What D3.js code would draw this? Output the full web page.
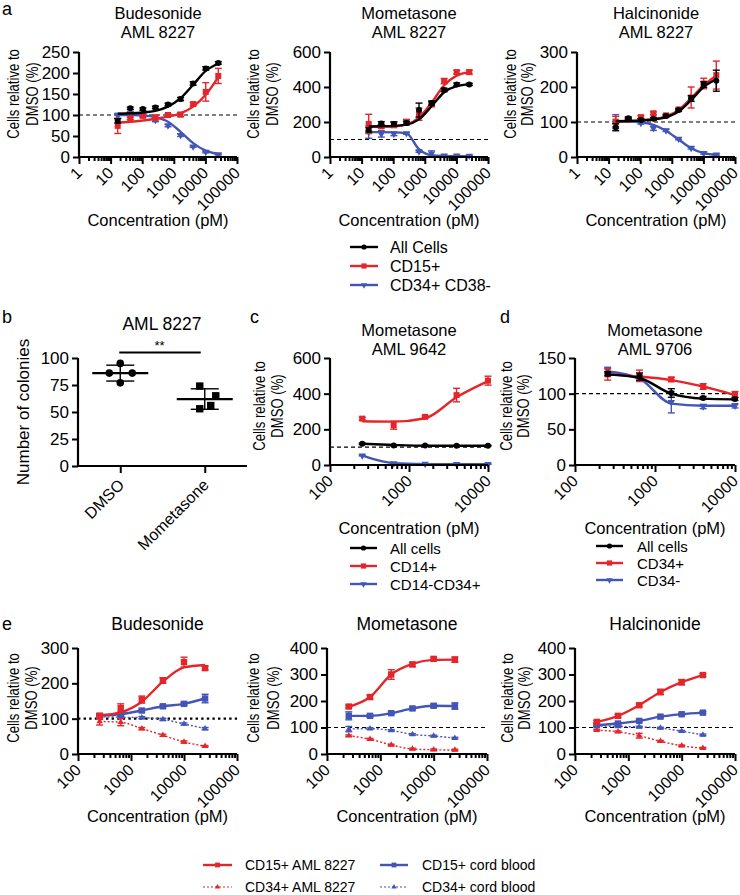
<!DOCTYPE html>
<html><head><meta charset="utf-8">
<script src="https://cdn.jsdelivr.net/npm/d3@7"></script>
<style>body{margin:0;background:#fff} svg{display:block} text{font-family:'Liberation Sans',Arial,sans-serif;fill:#000}</style>
</head><body>
<script>
// ---------------- DATA ----------------
// panel a (AML 8227) concentrations, pM
const concA = [16.8, 42, 105, 262, 655, 1638, 4096, 10240, 25600];
const budAll = [86,116,114,118,125,138,175,211,224];
const budAllErr = [5,3,3,3,3,4,4,4,3];
const budAllFit = [103,104,106,110,120,140,172,205,222];
const budCD15 = [74,92,98,94,100,101,126,155,193];
const budCD15Err = [18,3,4,6,3,5,4,22,18];
const budCD15Fit = [82,84,87,91,96,104,120,148,190];
const budCD34 = [98,104,100,88,75,52,25,12,6];
const budCD34Err = [6,3,3,4,3,3,2,2,1];
const budCD34Fit = [100,100,99,95,84,60,33,15,7];

const momAll = [155,192,189,194,268,308,383,415,415];
const momAllErr = [12,10,12,10,40,12,10,8,6];
const momAllFit = [175,176,178,185,215,290,370,405,415];
const momCD15 = [189,175,183,200,245,302,434,485,485];
const momCD15Err = [55,10,15,15,35,15,15,10,12];
const momCD15Fit = [172,173,176,186,225,310,410,465,485];
const momCD34 = [142,132,132,135,32,20,8,8,7];
const momCD34Err = [35,18,10,5,5,15,3,2,2];
const momCD34Fit = [142,142,141,135,45,10,6,5,5];

const halAll = [85,111,106,109,117,134,167,207,218];
const halAllErr = [10,3,3,4,3,3,8,8,30];
const halAllFit = [102,103,104,107,114,130,163,200,222];
const halCD15 = [101,108,114,125,119,136,170,210,234];
const halCD15Err = [15,3,4,4,3,3,30,15,40];
const halCD15Fit = [102,103,105,108,116,134,168,205,232];
const halCD34 = [101,109,97,82,76,52,26,11,7];
const halCD34Err = [20,3,3,6,3,3,3,3,2];
const halCD34Fit = [101,101,99,92,75,50,25,11,6];

// panel b colonies
const colonyGroups = ["DMSO","Mometasone"];
const dmsoColonies = [95,86,86,77];
const momColonies = [74,65,56,53];

// panel c (AML 9642) and d (AML 9706)
const concCD = [256, 640, 1600, 4000, 10000];
const cAll = [119,110,109,108,108];
const cAllErr = [4,3,2,2,2];
const cAllFit = [119,112,108,108,108];
const cCD14 = [260,223,270,392,473];
const cCD14Err = [8,22,6,38,25];
const cCD14Fit = [245,243,262,380,470];
const cCD14CD34 = [53,9,6,5,5];
const cCD14CD34Err = [2,2,1,1,1];
const cCD14CD34Fit = [52,10,5,4,4];

const dAll = [128,124,101,94,92.5];
const dAllErr = [3,5,6,2,2];
const dAllFit = [127,122,100,93,92];
const dCD34p = [127,125,120,110,99];
const dCD34pErr = [8,8,3,4,4];
const dCD34pFit = [127,124,119,110,98];
const dCD34n = [133,122,88,82,83];
const dCD34nErr = [4,4,15,3,3];
const dCD34nFit = [131,121,86,83,83];

// panel e
const concE = [256, 640, 1600, 4000, 10000, 25000];
const eBudCD15AML = [107,130,154,208,260,243];
const eBudCD15AMLErr = [8,12,10,8,14,5];
const eBudCD15AMLFit = [110,118,148,205,245,252];
const eBudCD15CB = [108,113,123,135,142,157];
const eBudCD15CBErr = [4,4,4,4,4,12];
const eBudCD34AML = [92,90,72,53,34,22];
const eBudCD34AMLErr = [10,10,3,3,3,2];
const eBudCD34CB = [106,104,103,98,85,72];
const eBudCD34CBErr = [3,3,3,3,3,3];

const eMomCD15AML = [179,215,300,338,359,356];
const eMomCD15AMLErr = [5,8,18,8,5,10];
const eMomCD15AMLFit = [178,215,300,340,355,356];
const eMomCD15CB = [144,144,154,172,182,181];
const eMomCD15CBErr = [15,5,5,5,6,12];
const eMomCD34AML = [69,56,34,19,16,15];
const eMomCD34AMLErr = [3,3,3,3,3,3];
const eMomCD34CB = [94,96,89,74,68,60];
const eMomCD34CBErr = [10,3,3,3,3,3];

const eHalCD15AML = [121,144,184,234,271,298];
const eHalCD15AMLErr = [5,5,5,10,10,5];
const eHalCD15CB = [109,115,125,141,150,156];
const eHalCD15CBErr = [4,4,4,4,4,4];
const eHalCD34AML = [90,84,69,48,31,22];
const eHalCD34AMLErr = [3,3,9,3,3,3];
const eHalCD34CB = [106,104,102,98,86,72];
const eHalCD34CBErr = [3,3,3,3,3,3];

const legendA = ["All Cells","CD15+","CD34+ CD38-"];
const legendC = ["All cells","CD14+","CD14-CD34+"];
const legendD = ["All cells","CD34+","CD34-"];
const legendE = ["CD15+ AML 8227","CD34+ AML 8227","CD15+ cord blood","CD34+ cord blood"];

// ---------------- DRAWING ----------------
const RED = '#e4262b', BLUE = '#4356b6', BLK = '#000';
const FONT = "'Liberation Sans',Arial,sans-serif";
const svg = d3.select('body').append('svg').attr('width',740).attr('height',895);

function text(x,y,s,size,anchor){
  return svg.append('text').attr('x',x).attr('y',y).attr('font-size',size)
    .attr('text-anchor',anchor||'start').text(s);
}
function marker(g,type,x,y,color,sz){
  if(type==='circle') g.append('circle').attr('cx',x).attr('cy',y).attr('r',sz).attr('fill',color);
  else if(type==='square') g.append('rect').attr('x',x-sz).attr('y',y-sz).attr('width',2*sz).attr('height',2*sz).attr('fill',color);
  else {
    const p = d3.symbol(d3.symbolTriangle, sz*sz*2.6)();
    g.append('path').attr('d',p).attr('fill',color)
      .attr('transform',`translate(${x},${y}) rotate(${type==='tridown'?180:0})`);
  }
}
function ylabel(lines, xs, cy, size, sc){
  lines.forEach((l,i)=>{
    svg.append('text').attr('transform',`translate(${xs[i]},${cy}) scale(1,${sc}) rotate(-90)`)
      .attr('text-anchor','middle').attr('dominant-baseline','central')
      .attr('font-size',size).text(l);
  });
}
function rotLabel(x,y,s,size){
  svg.append('text').attr('transform',`translate(${x},${y}) rotate(-45)`)
    .attr('text-anchor','end').attr('dy','0.35em').attr('font-size',size).text(s);
}
function styleY(ya,top,bot){
  ya.select('.domain').attr('stroke-width',2.2).attr('d',`M0,${bot+1}V${top}`);
  ya.selectAll('.tick line').attr('stroke-width',2);
  ya.selectAll('.tick text').attr('font-size',17).attr('font-family',FONT).attr('fill','#000');
}

function plot(cfg){
  const x = d3.scaleLog().domain(cfg.xDomain).range([cfg.x0,cfg.x1]);
  const y = d3.scaleLinear().domain([0,cfg.yMax]).range([cfg.bot,cfg.top]);
  const g = svg.append('g');
  // reference line at 100
  g.append('line').attr('x1',cfg.x0).attr('x2',cfg.x1).attr('y1',y(100)).attr('y2',y(100))
    .attr('stroke','#000')
    .attr('stroke-width', cfg.refDot?2.4:1.2)
    .attr('stroke-dasharray', cfg.refDot?'2.4,3.2':'4,3');
  cfg.series.forEach(s=>{
    const vals = s.fit || s.y;
    const line = d3.line().x((d,i)=>x(s.x[i])).y(d=>y(d)).curve(d3.curveMonotoneX);
    g.append('path').attr('d',line(vals)).attr('fill','none').attr('stroke',s.color)
      .attr('stroke-width', s.dash?1.4:2.4).attr('stroke-dasharray', s.dash?'2,2':null);
    s.y.forEach((v,i)=>{
      const cx = x(s.x[i]), e = s.err[i];
      const y1 = y(v-e), y2 = y(v+e);
      g.append('line').attr('x1',cx).attr('x2',cx).attr('y1',y1).attr('y2',y2).attr('stroke',s.color).attr('stroke-width',1.4);
      [y1,y2].forEach(yy=>g.append('line').attr('x1',cx-3.5).attr('x2',cx+3.5).attr('y1',yy).attr('y2',yy).attr('stroke',s.color).attr('stroke-width',1.4));
      marker(g,s.marker,cx,y(v),s.color,s.size||3);
    });
  });
  // y axis
  const ya = g.append('g').attr('transform',`translate(${cfg.x0},0)`)
    .call(d3.axisLeft(y).tickValues(cfg.yTicks).tickSize(6).tickSizeOuter(0).tickPadding(3));
  styleY(ya,cfg.top,cfg.bot);
  // x axis (log with minor ticks)
  const d0 = Math.round(Math.log10(cfg.xDomain[0])), d1 = Math.round(Math.log10(cfg.xDomain[1]));
  const tv = [];
  for(let d=d0; d<d1; d++) for(let k=1;k<10;k++) tv.push(k*Math.pow(10,d));
  tv.push(Math.pow(10,d1));
  const xa = g.append('g').attr('transform',`translate(0,${cfg.bot})`)
    .call(d3.axisBottom(x).tickValues(tv).tickSizeOuter(0).tickFormat(()=>''));
  xa.select('.domain').attr('stroke-width',2.2).attr('d',`M${cfg.x0-1},0H${cfg.x1}`);
  xa.selectAll('.tick line').attr('stroke-width',2)
    .attr('y2',d=>{const l=Math.log10(d);return Math.abs(l-Math.round(l))<1e-9?7:4;});
  for(let d=d0; d<=d1; d++){
    const v = Math.pow(10,d);
    rotLabel(x(v), cfg.bot+13, String(v), 16);
  }
  // titles
  cfg.title.forEach((t,i)=>text((cfg.x0+cfg.x1)/2, cfg.titleY[i], t, cfg.title.length>1?16.5:17.5, 'middle'));
  ylabel(["Cells relative to","DMSO (%)"], cfg.ylabX, cfg.ylabCY, 16, 0.82);
  text((cfg.x0+cfg.x1)/2, cfg.xlabY, "Concentration (pM)", 16.5, 'middle');
}

function ser(xv,yv,err,fit,color,mk,dash,size){return {x:xv,y:yv,err:err,fit:fit,color:color,marker:mk,dash:dash,size:size};}
function legend(x0, ys, labels, specs, size, lineLen, gap){
  labels.forEach((l,i)=>{
    const s = specs[i], y = ys[i];
    svg.append('line').attr('x1',x0).attr('x2',x0+lineLen).attr('y1',y).attr('y2',y)
      .attr('stroke',s.color).attr('stroke-width',s.dash?1.2:2.4).attr('stroke-dasharray',s.dash?'2,2':null);
    marker(svg,s.marker,x0+lineLen/2,y,s.color,s.size||2.6);
    svg.append('text').attr('x',x0+lineLen+gap).attr('y',y).attr('dominant-baseline','central')
      .attr('font-size',size).text(l);
  });
}

// ---- Row 1 (a)
text(2,15,'a',18);
const R1 = {top:52, bot:157, titleY:[19,37.5], ylabCY:94, xlabY:226, xDomain:[1,100000]};
plot(Object.assign({},R1,{x0:79,x1:237,yMax:250,yTicks:[0,50,100,150,200,250],title:["Budesonide","AML 8227"],ylabX:[14,33],
  series:[ser(concA,budCD34,budCD34Err,budCD34Fit,BLUE,'tridown'),
          ser(concA,budCD15,budCD15Err,budCD15Fit,RED,'square'),
          ser(concA,budAll,budAllErr,budAllFit,BLK,'circle')]}));
plot(Object.assign({},R1,{x0:330,x1:488,yMax:600,yTicks:[0,200,400,600],title:["Mometasone","AML 8227"],ylabX:[254,273],
  series:[ser(concA,momCD34,momCD34Err,momCD34Fit,BLUE,'tridown'),
          ser(concA,momCD15,momCD15Err,momCD15Fit,RED,'square'),
          ser(concA,momAll,momAllErr,momAllFit,BLK,'circle')]}));
plot(Object.assign({},R1,{x0:577,x1:735,yMax:300,yTicks:[0,100,200,300],title:["Halcinonide","AML 8227"],ylabX:[511,528],
  series:[ser(concA,halCD34,halCD34Err,halCD34Fit,BLUE,'tridown'),
          ser(concA,halCD15,halCD15Err,halCD15Fit,RED,'square'),
          ser(concA,halAll,halAllErr,halAllFit,BLK,'circle')]}));
legend(350,[247,266,285],legendA,[{color:BLK,marker:'circle'},{color:RED,marker:'square'},{color:BLUE,marker:'tridown'}],16,28,12);

// ---- Row 2
text(2,323,'b',18); text(250,323,'c',18); text(500,323,'d',18);
// panel b
(function(){
  const top=358, bot=466, x0=78, x1=247;
  const x = d3.scalePoint().domain(colonyGroups).range([x0,x1]).padding(0.5);
  const y = d3.scaleLinear().domain([0,100]).range([bot,top]);
  const g = svg.append('g');
  const groups = [{k:colonyGroups[0],v:dmsoColonies,m:'circle',off:[0,-11,12,0]},{k:colonyGroups[1],v:momColonies,m:'square',off:[-5,11,6,-5]}];
  groups.forEach(gr=>{
    const cx = x(gr.k), m = d3.mean(gr.v), sd = d3.deviation(gr.v);
    gr.v.forEach((v,i)=>marker(g,gr.m,cx+gr.off[i],y(v),'#000',gr.m==='circle'?3.8:3.7));
    g.append('line').attr('x1',cx-28).attr('x2',cx+28).attr('y1',y(m)).attr('y2',y(m)).attr('stroke','#000').attr('stroke-width',2.2);
    g.append('line').attr('x1',cx).attr('x2',cx).attr('y1',y(m-sd)).attr('y2',y(m+sd)).attr('stroke','#000').attr('stroke-width',1.4);
    [m-sd,m+sd].forEach(v=>g.append('line').attr('x1',cx-14).attr('x2',cx+14).attr('y1',y(v)).attr('y2',y(v)).attr('stroke','#000').attr('stroke-width',1.4));
  });
  g.append('line').attr('x1',x(colonyGroups[0])-1).attr('x2',x(colonyGroups[1])-4).attr('y1',y(105)).attr('y2',y(105)).attr('stroke','#000').attr('stroke-width',2);
  text((x(colonyGroups[0])+x(colonyGroups[1]))/2-3, y(105)-3, '**', 13, 'middle');
  const ya = g.append('g').attr('transform',`translate(${x0},0)`)
    .call(d3.axisLeft(y).tickValues([0,25,50,75,100]).tickSize(6).tickSizeOuter(0).tickPadding(3));
  styleY(ya,top,bot);
  const xa = g.append('g').attr('transform',`translate(0,${bot})`)
    .call(d3.axisBottom(x).tickSize(7).tickSizeOuter(0).tickFormat(()=>''));
  xa.select('.domain').attr('stroke-width',2.2).attr('d',`M${x0-1},0H${x1}`);
  xa.selectAll('.tick line').attr('stroke-width',2);
  colonyGroups.forEach(k=>rotLabel(x(k)+1, bot+16, k, 16));
  text(162,330,'AML 8227',17.5,'middle');
  ylabel(["Number of colonies"],[23],412,17,1);
})();
const R2 = {top:358, bot:465, titleY:[336,354.5], ylabCY:406, xlabY:534, xDomain:[100,10000]};
plot(Object.assign({},R2,{x0:330,x1:488,yMax:600,yTicks:[0,200,400,600],title:["Mometasone","AML 9642"],ylabX:[260,278],
  series:[ser(concCD,cCD14CD34,cCD14CD34Err,cCD14CD34Fit,BLUE,'tridown'),
          ser(concCD,cCD14,cCD14Err,cCD14Fit,RED,'square'),
          ser(concCD,cAll,cAllErr,cAllFit,BLK,'circle')]}));
plot(Object.assign({},R2,{x0:575,x1:735,yMax:150,yTicks:[0,50,100,150],title:["Mometasone","AML 9706"],ylabX:[507,524],
  series:[ser(concCD,dCD34n,dCD34nErr,dCD34nFit,BLUE,'tridown'),
          ser(concCD,dCD34p,dCD34pErr,dCD34pFit,RED,'square'),
          ser(concCD,dAll,dAllErr,dAllFit,BLK,'circle')]}));
legend(350,[548,566,584],legendC,[{color:BLK,marker:'circle'},{color:RED,marker:'square'},{color:BLUE,marker:'tridown'}],15,27,13);
legend(596,[546,563,580],legendD,[{color:BLK,marker:'circle'},{color:RED,marker:'square'},{color:BLUE,marker:'tridown'}],15,27,14);

// ---- Row 3 (e)
text(2,630,'e',18);
const R3 = {top:648, bot:754, titleY:[630], ylabCY:698, xlabY:822, xDomain:[100,100000]};
plot(Object.assign({},R3,{x0:78,x1:237,yMax:300,yTicks:[0,100,200,300],title:["Budesonide"],ylabX:[14,32],refDot:true,
  series:[ser(concE,eBudCD34CB,eBudCD34CBErr,null,BLUE,'triup',true,2.6),
          ser(concE,eBudCD34AML,eBudCD34AMLErr,null,RED,'triup',true,2.6),
          ser(concE,eBudCD15CB,eBudCD15CBErr,null,BLUE,'square',false,3.2),
          ser(concE,eBudCD15AML,eBudCD15AMLErr,eBudCD15AMLFit,RED,'square',false,3.2)]}));
plot(Object.assign({},R3,{x0:327,x1:487,yMax:400,yTicks:[0,100,200,300,400],title:["Mometasone"],ylabX:[254,274],
  series:[ser(concE,eMomCD34CB,eMomCD34CBErr,null,BLUE,'triup',true,2.6),
          ser(concE,eMomCD34AML,eMomCD34AMLErr,null,RED,'triup',true,2.6),
          ser(concE,eMomCD15CB,eMomCD15CBErr,null,BLUE,'square',false,3.2),
          ser(concE,eMomCD15AML,eMomCD15AMLErr,eMomCD15AMLFit,RED,'square',false,3.2)]}));
plot(Object.assign({},R3,{x0:575,x1:735,yMax:400,yTicks:[0,100,200,300,400],title:["Halcinonide"],ylabX:[508,525],
  series:[ser(concE,eHalCD34CB,eHalCD34CBErr,null,BLUE,'triup',true,2.6),
          ser(concE,eHalCD34AML,eHalCD34AMLErr,null,RED,'triup',true,2.6),
          ser(concE,eHalCD15CB,eHalCD15CBErr,null,BLUE,'square',false,3.2),
          ser(concE,eHalCD15AML,eHalCD15AMLErr,null,RED,'square',false,3.2)]}));
legend(203,[865,887],legendE.slice(0,2),[{color:RED,marker:'square',size:2.4},{color:RED,marker:'triup',dash:true,size:2.2}],14,29,13);
legend(380,[865,887],legendE.slice(2),[{color:BLUE,marker:'square',size:2.4},{color:BLUE,marker:'triup',dash:true,size:2.2}],14,28,14);
</script>
</body></html>
